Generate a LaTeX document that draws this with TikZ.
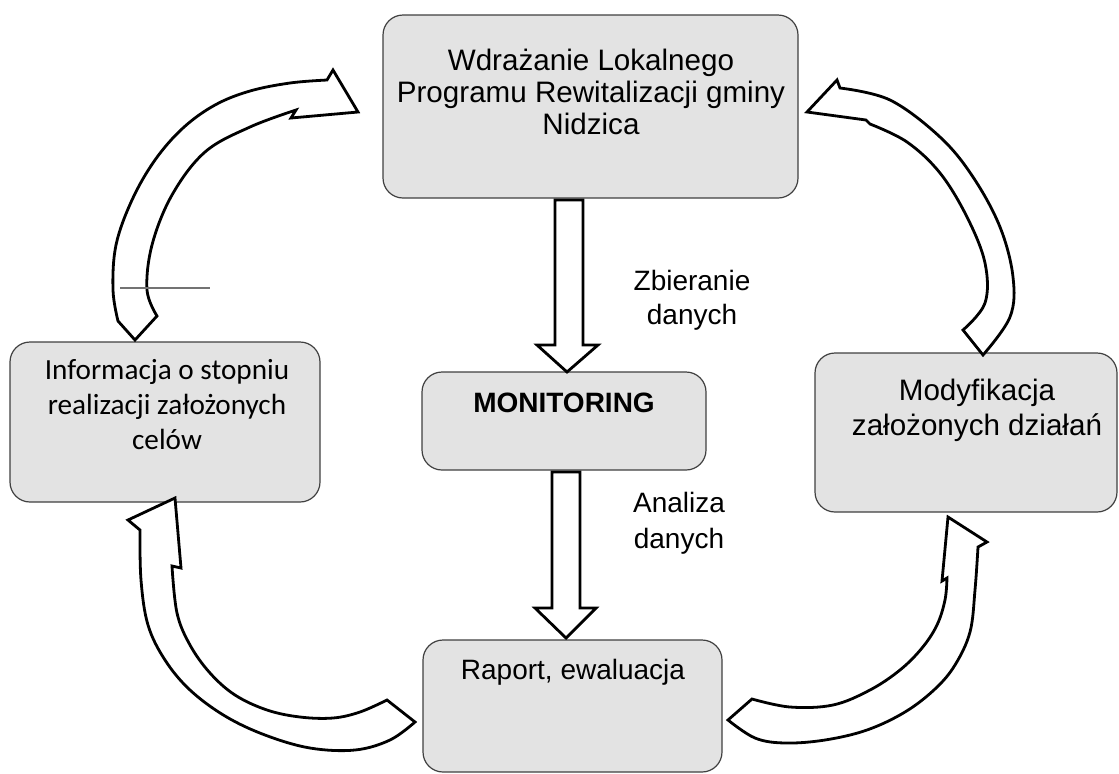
\documentclass[tikz,border=0pt]{standalone}
\usepackage{fontspec}
\setmainfont{Liberation Sans}
\newfontfamily\calib{Carlito}
\begin{document}
\begin{tikzpicture}[x=0.5pt,y=-0.5pt,
  box/.style={draw=black!75, line width=0.6pt, fill=black!11, rounded corners=10pt, inner sep=0pt},
  txt/.style={align=center, font=\fontsize{14}{16}\selectfont, inner sep=0pt},
  blockarrow/.style={draw=black, line width=1.4pt, fill=white, line join=miter}]
\useasboundingbox (0,0) rectangle (1119,773);
% boxes
\node[box, minimum width=207.5pt, minimum height=91.5pt] (top) at (590.5,106.5) {};
\node[box, minimum width=142pt, minimum height=49pt] (mon) at (564,421) {};
\node[box, minimum width=155pt, minimum height=80pt] (info) at (165,422) {};
\node[box, minimum width=151pt, minimum height=79.5pt] (mod) at (966,432.5) {};
\node[box, minimum width=149.5pt, minimum height=66pt] (rap) at (572.5,706) {};
% texts
\node[txt, font=\fontsize{14.8}{16}\selectfont] (toptxt) at (591,92) {Wdrażanie Lokalnego\\Programu Rewitalizacji gminy\\Nidzica};
\node[txt, font=\fontsize{14}{16}\selectfont\bfseries] (montxt) at (564,403) {MONITORING};
\node[txt] (raptxt) at (573,672) {Raport, ewaluacja};
\node[txt, font=\fontsize{14.6}{17.5}\selectfont\calib] (infotxt) at (167,405) {Informacja o stopniu\\realizacji założonych\\celów};
\node[txt, font=\fontsize{14.8}{17.5}\selectfont] (modtxt) at (977,410) {Modyfikacja\\założonych działań};
\node[txt, font=\fontsize{14}{17}\selectfont] (lab1) at (692,300) {Zbieranie\\danych};
\node[txt, font=\fontsize{14}{18}\selectfont] (lab2) at (679,523) {Analiza\\danych};
% straight block arrows
\draw[blockarrow] (555,200) -- (555,345) -- (537,345) -- (567,372) -- (598,345) -- (583,345) -- (583,200) -- cycle;
\draw[blockarrow] (552,472) -- (552,608) -- (535,608) -- (566,638) -- (596,608) -- (580,608) -- (580,472) -- cycle;
% curved block arrows
\draw[blockarrow] (135,340) -- (118,321) -- plot[smooth,tension=0.6] coordinates {(118,321) (113,290) (116,245) (132,200) (155,160) (183,128) (215,105) (250,91) (290,83) (327,80)} -- (333,70) -- (358,112) -- (291,118) -- plot[smooth,tension=0.6] coordinates {(296,110) (250,127) (205,152) (172,195) (152,245) (147,290) (157,316)} -- cycle;
\draw[blockarrow] (807,112) -- (837,80) -- plot[smooth,tension=0.6] coordinates {(840,88) (890,100) (940,137) (973,177) (1000,227) (1013,277) (1010,317) (983,355)} -- (963,330) -- plot[smooth,tension=0.6] coordinates {(963,330) (985,303) (985,263) (967,217) (940,173) (907,142) (870,124)} -- (866,120) -- cycle;
\draw[blockarrow] (175,498) -- (128,520) -- plot[smooth,tension=0.6] coordinates {(140,530) (141,580) (148,625) (165,660) (190,690) (225,716) (265,735) (310,748) (355,750) (390,740) (415,722)} -- (387,700) -- plot[smooth,tension=0.6] coordinates {(387,700) (360,712) (333,718) (300,717) (267,710) (235,695) (210,673) (190,645) (177,613) (172,566)} -- (181,568) -- cycle;
\draw[blockarrow] (948,517) -- (987,542) -- plot[smooth,tension=0.6] coordinates {(978,547) (975,590) (970,632) (955,665) (935,689) (905,712) (867,730) (825,740) (785,743) (755,738) (728,720)} -- (752,699) -- plot[smooth,tension=0.6] coordinates {(752,699) (790,707) (833,705) (870,690) (900,670) (922,648) (937,625) (945,600) (947,578)} -- (942,581) -- cycle;
% stray line
\draw[black!55, line width=0.6pt] (120,288) -- (210,288);
\end{tikzpicture}
\end{document}
